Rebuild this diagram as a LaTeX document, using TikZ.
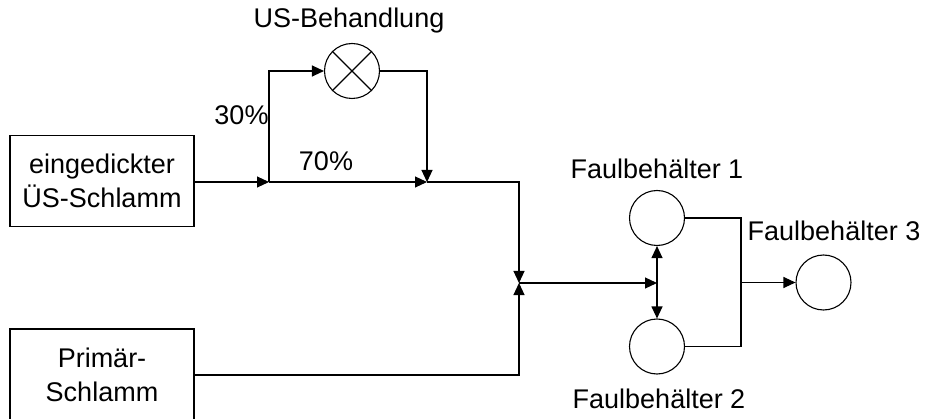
\documentclass[tikz,border=0pt]{standalone}
\usepackage{fontspec}
\setmainfont{Liberation Sans}
\usetikzlibrary{arrows.meta}
\begin{document}
\begin{tikzpicture}[x=1pt,y=-1pt,
  every node/.style={font=\fontsize{27}{34.5}\selectfont},
  ln/.style={line width=1.1pt, draw=black},
  arr/.style={ln, -{Triangle[length=12pt,width=11pt]}},
  darr/.style={ln, {Triangle[length=12pt,width=11pt]}-{Triangle[length=12pt,width=11pt]}},
  boxn/.style={ln, rectangle, minimum width=184pt, align=center, inner sep=0pt},
  tank/.style={ln, circle, minimum size=55pt, inner sep=0pt},
  lbl/.style={anchor=base, inner sep=0pt}]
\useasboundingbox (0,0) rectangle (925,419);
\fill[white] (0,0) rectangle (925,419);
% boxes
\node[boxn, minimum height=90.5pt] (b1) at (102,181) {eingedickter\\ÜS-Schlamm};
\node[boxn, minimum height=92pt] (b2) at (102,375) {Primär-\\Schlamm};
% US treatment
\node[tank] (us) at (352,71) {};
\draw[ln] (us.north east) -- (us.south west) (us.north west) -- (us.south east);
\node[lbl] (usl) at (349,28) {US-Behandlung};
% digesters
\node[tank] (f1) at (657,218) {};
\node[tank] (f2) at (657,346.5) {};
\node[tank] (f3) at (823.5,282.5) {};
\node[lbl] (f1l) at (657,179) {Faulbehälter 1};
\node[lbl] (f2l) at (659,408) {Faulbehälter 2};
\node[lbl] (f3l) at (834,240.5) {Faulbehälter 3};
% labels
\node[lbl] (p30) at (241.5,125) {30\%};
\node[lbl] (p70) at (326,171) {70\%};
% junction coordinates
\coordinate (s1) at (269,182);
\coordinate (t1) at (269,71);
\coordinate (j1) at (427,182);
\coordinate (u1) at (427,71);
\coordinate (k1) at (519,182);
\coordinate (m) at (519,283);
\coordinate (k2) at (519,375);
\coordinate (m2) at (657,283);
\coordinate (c3) at (741,282.5);
% connectors
\draw[arr] (b1.east |- s1) -- (s1);
\draw[arr] (s1) -- (t1) -- (us.west);
\draw[arr] (s1) -- (j1);
\draw[arr] (us.east) -- (u1) -- (j1);
\draw[arr] (j1) -- (k1) -- (m);
\draw[arr] (b2.east |- k2) -- (k2) -- (m);
\draw[arr] (m) -- (m2);
\draw[darr] (f1.south) -- (f2.north);
\draw[ln] (f1.east) -| (c3) |- (f2.east);
\draw[arr] (c3) -- (f3.west);
\end{tikzpicture}
\end{document}
